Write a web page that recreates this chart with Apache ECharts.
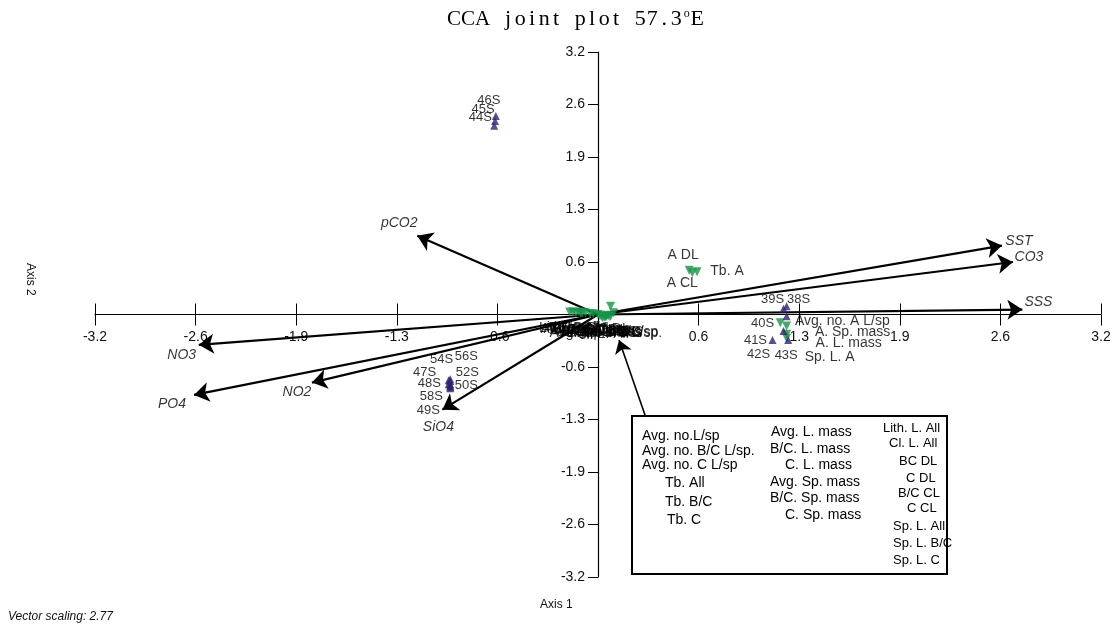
<!DOCTYPE html>
<html>
<head>
<meta charset="utf-8">
<script src="https://cdn.jsdelivr.net/npm/echarts@6/dist/echarts.min.js"></script>
<style>html,body{margin:0;background:#fff}#main{width:1116px;height:630px}</style>
</head>
<body>
<div id="main"></div>
<script>
// sample sites (purple triangles)
var siteNames = ['44S','45S','46S','38S','39S','40S','41S','42S','43S',
  '47S','48S','49S','50S','52S','54S','56S','58S'];
var siteX = [-0.66,-0.655,-0.65,1.20,1.18,1.20,1.11,1.18,1.21,
  -0.95,-0.94,-0.94,-0.94,-0.94,-0.95,-0.94,-0.94];
var siteY = [2.30,2.36,2.42,0.10,0.07,-0.02,-0.31,-0.20,-0.31,
  -0.85,-0.87,-0.90,-0.85,-0.81,-0.80,-0.79,-0.88];

// species / variables (green inverted triangles)
var speciesNames = ['A DL','Tb. A','A CL','Avg. no. A L/sp','A. Sp. mass','A. L. mass','Sp. L. A',
  'Avg. no.L/sp','Avg. no. B/C L/sp.','Avg. no. C L/sp','Tb. All','Tb. B/C','Tb. C',
  'Avg. L. mass','B/C. L. mass','C. L. mass','Avg. Sp. mass','B/C. Sp. mass','C. Sp. mass',
  'Lith. L. All','Cl. L. All','BC DL','C DL','B/C CL','C CL','Sp. L. All','Sp. L. B/C','Sp. L. C'];
var speciesX = [0.58,0.63,0.60,1.16,1.20,1.20,1.20,
  -0.10,0.05,0.08,-0.12,-0.16,-0.14,
  -0.05,0.02,0.06,-0.08,0.00,0.04,
  -0.18,0.03,0.08,0.10,-0.03,0.01,-0.11,0.07,0.05];
var speciesY = [0.54,0.52,0.51,-0.10,-0.14,-0.24,-0.29,
  0.02,-0.03,-0.02,0.03,0.03,0.02,
  0.01,-0.02,-0.01,0.02,0.00,-0.03,
  0.03,-0.04,0.10,0.02,0.01,-0.01,0.02,-0.02,-0.02];

// environmental vectors
var envNames = ['SST','CO3','SSS','pCO2','NO3','PO4','NO2','SiO4'];
var envX = [2.57,2.64,2.70,-1.15,-2.54,-2.57,-1.82,-0.99];
var envY = [0.84,0.64,0.06,0.96,-0.37,-0.98,-0.83,-1.16];

// callout arrow from the legend box to the crowded centre
var calloutFrom = [0.30,-1.23];
var calloutTo = [0.134,-0.31];

// label placement (pixel offset of label centre from its point)
var labelShift = {
  '44S':[-14,-8],'45S':[-12,-11],'46S':[-7,-16],'38S':[12,-7],'39S':[-11,-9],'40S':[-24,7],
  '41S':[-17,0],'42S':[-25,24],'43S':[-2,15],
  '47S':[-24,-12],'48S':[-21,-2],'49S':[-22,22],'50S':[16,1],'52S':[17,-9],'54S':[-7,-21],
  '56S':[16,-23],'58S':[-19,10],
  'A DL':[-6,-15],'Tb. A':[30,-1],'A CL':[-10,10],'Avg. no. A L/sp':[62,-2],
  'A. Sp. mass':[66,6],'A. L. mass':[62,9],'Sp. L. A':[43,19],'BC DL':[-4,24],
  SST:[17,-4],CO3:[16,-5],SSS:[16,-7],pCO2:[-18,-13],NO3:[-17,10],PO4:[-22,9],NO2:[-15,10],SiO4:[-4,17]
};

// legend box layout: [left x, y] per line, font size per column
var boxCols = [
  [[642,437],[642,452],[642,466],[665,484],[665,503],[667,521]],
  [[771,433],[770,450],[785,466],[770,483],[770,499],[785,516]],
  [[883,430],[889,445],[899,463],[906,480],[898,495],[907,510],[893,528],[893,545],[893,562]]
];
var boxFont = [14, 14, 13];

var FONT = 'Liberation Sans';
var INK = '#000';
var chartDom = document.getElementById('main');
var myChart = echarts.init(chartDom);
var option;

function shift(name, dflt) {
  return labelShift[name] || dflt;
}

var siteData = siteNames.map(function (n, i) {
  return { name: n, value: [siteX[i], siteY[i]], label: { offset: shift(n, [0, 0]) } };
});
var speciesData = speciesNames.map(function (n, i) {
  return { name: n, value: [speciesX[i], speciesY[i]], label: { offset: shift(n, [0, 16]) } };
});
var envLines = envNames.map(function (n, i) {
  return { coords: [[0, 0], [envX[i], envY[i]]] };
});
var envTips = envNames.map(function (n, i) {
  return { name: n, value: [envX[i], envY[i]], label: { offset: shift(n, [0, 0]) } };
});

function tickFmt(v) {
  return Math.abs(v) < 1e-6 ? '' : v.toFixed(1);
}

// title, monospaced look
var titleText = '{w|CCA}' + ' joint plot 57.3'.split('').map(function (c) {
  return '{c|' + (c === ' ' ? '\u00a0' : c) + '}';
}).join('') + '{s|o}{c|E}';

var boxTexts = [];
var k = 0;
boxCols.forEach(function (col, ci) {
  col.forEach(function (p) {
    boxTexts.push({
      type: 'text', left: p[0], top: p[1] - 8, z: 51,
      style: { text: speciesNames[7 + k], font: boxFont[ci] + 'px ' + FONT, fill: INK }
    });
    k++;
  });
});

var baseLabel = {
  show: true, position: 'inside', formatter: '{b}', color: INK,
  fontFamily: FONT, fontSize: 13, align: 'center', verticalAlign: 'middle'
};

var GRID = { left: 95, right: 15, top: 52, bottom: 53 };
var halfW = (1116 - GRID.left - GRID.right) / 2;
var halfH = (630 - GRID.top - GRID.bottom) / 2;

option = {
  animation: false,
  backgroundColor: '#fff',
  grid: GRID,
  xAxis: [
    {
      type: 'value', min: -3.2, max: 3.2, interval: 0.64, position: 'bottom', offset: -halfH,
      axisLine: { onZero: false, lineStyle: { color: INK, width: 1.2 } },
      axisTick: { inside: true, length: 11, lineStyle: { color: INK } },
      axisLabel: { formatter: tickFmt, margin: 16, color: '#111', fontFamily: FONT, fontSize: 14 },
      splitLine: { show: false }
    },
    {
      type: 'value', min: -3.2, max: 3.2, interval: 0.64, position: 'bottom', offset: -halfH,
      axisLine: { show: false, onZero: false },
      axisTick: { inside: false, length: 11, lineStyle: { color: INK } },
      axisLabel: { show: false },
      splitLine: { show: false }
    }
  ],
  yAxis: {
    type: 'value', min: -3.2, max: 3.2, interval: 0.64, position: 'left', offset: -halfW,
    axisLine: { onZero: false, lineStyle: { color: INK, width: 1.2 } },
    axisTick: { length: 10, lineStyle: { color: INK } },
    axisLabel: { formatter: tickFmt, margin: 13, color: '#111', fontFamily: FONT, fontSize: 14 },
    splitLine: { show: false }
  },
  graphic: [
    {
      type: 'text', left: 447, top: 8,
      style: {
        text: titleText,
        rich: {
          w: { fontFamily: 'Liberation Serif', fontSize: 21, color: INK },
          c: { fontFamily: 'Liberation Serif', fontSize: 22, width: 12, align: 'center', color: INK },
          s: { fontFamily: 'Liberation Serif', fontSize: 12, width: 9, align: 'center', padding: [0, 0, 10, 0], verticalAlign: 'top', color: INK }
        }
      }
    },
    { type: 'text', left: 540, top: 599, style: { text: 'Axis 1', font: '12px ' + FONT, fill: '#111' } },
    { type: 'text', x: 36, y: 263, rotation: -Math.PI / 2, style: { text: 'Axis 2', font: '12px ' + FONT, fill: '#111' } },
    { type: 'text', left: 8, top: 611, style: { text: 'Vector scaling: 2.77', font: 'italic 12px ' + FONT, fill: '#111' } },
    {
      type: 'rect', shape: { x: 632, y: 416, width: 315, height: 158 },
      style: { fill: '#fff', stroke: INK, lineWidth: 2 }, z: 50
    }
  ].concat(boxTexts),
  series: [
    {
      type: 'lines', coordinateSystem: 'cartesian2d', xAxisIndex: 0, yAxisIndex: 0, silent: true,
      symbol: ['none', 'arrow'], symbolSize: [9, 15],
      lineStyle: { color: INK, width: 2.2, opacity: 1 },
      data: envLines, z: 3
    },
    {
      type: 'lines', coordinateSystem: 'cartesian2d', xAxisIndex: 0, yAxisIndex: 0, silent: true,
      symbol: ['none', 'arrow'], symbolSize: [8, 13],
      lineStyle: { color: INK, width: 1.6, opacity: 1 },
      data: [{ coords: [calloutFrom, calloutTo] }], z: 3
    },
    {
      type: 'scatter', xAxisIndex: 0, yAxisIndex: 0, symbolSize: 0, silent: true,
      label: Object.assign({}, baseLabel, { fontStyle: 'italic', fontSize: 14 }),
      data: envTips, z: 4
    },
    {
      type: 'scatter', xAxisIndex: 0, yAxisIndex: 0, symbol: 'triangle', symbolRotate: 180, symbolSize: 9,
      itemStyle: { color: '#169447' }, silent: true,
      label: Object.assign({}, baseLabel, { fontSize: 14 }), data: speciesData, z: 5
    },
    {
      type: 'scatter', xAxisIndex: 0, yAxisIndex: 0, symbol: 'triangle', symbolSize: 8,
      itemStyle: { color: '#2f2272' }, silent: true,
      label: baseLabel, data: siteData, z: 6
    }
  ]
};

option && myChart.setOption(option);
</script>
</body>
</html>
